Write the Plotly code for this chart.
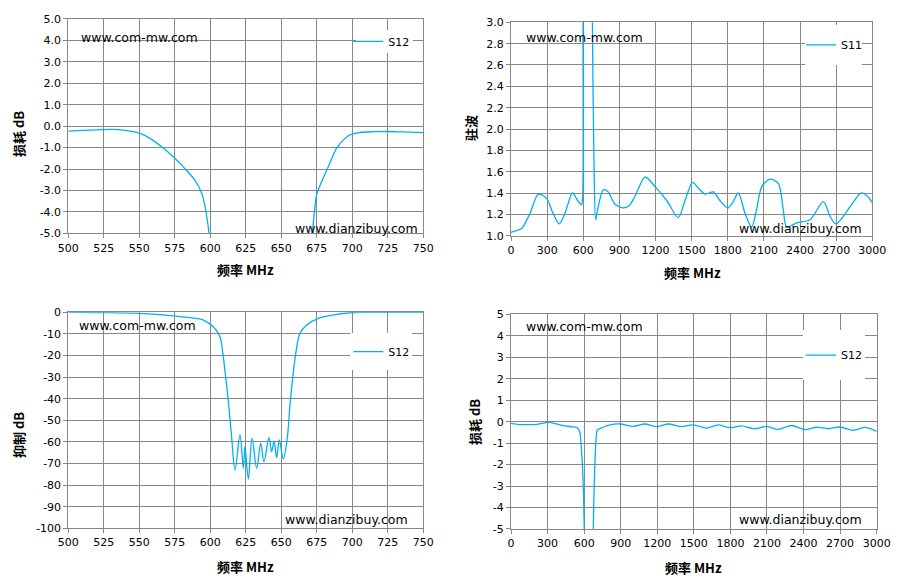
import plotly.graph_objects as go

# ---- data ----
# top left: pass band loss 500-750 MHz
f_il = [500, 510, 520, 530, 540, 550, 557.5, 567, 575, 582, 589, 594, 596.3, 597.9,
        599.1, 600.5, 605, 635, 665, 670, 671.8, 673, 674.9, 678.4, 683.1, 689,
        694.9, 698.4, 705, 715, 725, 735, 750]
s12_il = [-0.23, -0.2, -0.17, -0.15, -0.2, -0.33, -0.57, -1.03, -1.5, -1.97, -2.51, -3.13, -3.76, -4.38,
          -5.0, -6.0, -15, -60, -15, -6.2, -5.0, -4.22, -3.21, -2.59, -1.89, -1.03,
          -0.57, -0.41, -0.3, -0.26, -0.25, -0.27, -0.3]

# top right: VSWR 0-3000 MHz
f_vswr = [0, 50, 90, 158, 227, 296, 345, 400, 448, 510, 559, 585, 594, 598, 605, 640, 670,
          676, 690, 703, 720, 767, 808, 860, 930, 980, 1030, 1113, 1196, 1293, 1389, 1445,
          1508, 1560, 1611, 1680, 1735, 1799, 1840, 1888, 1943, 1998, 2040, 2082, 2151, 2220,
          2260, 2289, 2372, 2483, 2594, 2650, 2699, 2815, 2906, 2960, 3000]
s11_vswr = [1.03, 1.05, 1.07, 1.21, 1.39, 1.35, 1.22, 1.11, 1.21, 1.40, 1.32, 1.29, 1.35, 3.0, 4.5, 5.0, 4.5,
            3.0, 1.6, 1.15, 1.25, 1.43, 1.41, 1.30, 1.26, 1.28, 1.37, 1.55, 1.46, 1.33, 1.17, 1.33,
            1.50, 1.44, 1.39, 1.41, 1.33, 1.26, 1.31, 1.40, 1.21, 1.08, 1.25, 1.46, 1.53, 1.49,
            1.25, 1.08, 1.12, 1.15, 1.32, 1.18, 1.11, 1.27, 1.40, 1.37, 1.31]

# bottom left: rejection 500-750 MHz
f_rej = [500, 525, 550, 574, 585.7, 595.1, 602.1, 606.8, 608.7, 610.4, 612, 613.4, 615.1,
         617.4, 620.9, 623.3, 624.4, 626.8, 629.4, 632.7, 635.5, 637.8, 641.3, 643.2, 644.9,
         646.7, 648.6, 651.4, 654.2, 656.1, 658, 660.4, 663.2, 667.9, 676.1, 687, 698.6,
         710, 725, 750]
s12_rej = [0, -0.1, -0.5, -1.6, -2.5, -3.6, -6.7, -11.3, -18.2, -27.5, -36.7, -46, -58.3,
           -73, -56.8, -72.2, -62.2, -77.2, -58.3, -72.2, -60.6, -69.2, -58, -64.5, -59.6,
           -67.3, -59.1, -67.9, -58.3, -42.9, -30.6, -18.2, -9.7, -5.9, -2.8, -1.2, -0.2,
           0, 0, 0]

# bottom right: wide band loss 0-3000 MHz
f_wide = [0, 74, 150, 211, 306, 370, 429, 500, 539, 561, 580, 593, 601, 605, 640, 672, 675,
          683, 697, 708, 744, 812, 894, 1003, 1099, 1195, 1290, 1400, 1495, 1605, 1700, 1796,
          1892, 2001, 2097, 2193, 2302, 2412, 2508, 2603, 2699, 2808, 2904, 3000]
s12_wide = [-0.08, -0.14, -0.14, -0.13, -0.03, -0.1, -0.19, -0.24, -0.27, -0.42, -1.5, -3.07, -5.0, -6, -30, -6, -5.0,
            -2.9, -0.89, -0.39, -0.29, -0.15, -0.11, -0.22, -0.11, -0.23, -0.11, -0.23, -0.15, -0.3, -0.15, -0.28,
            -0.2, -0.33, -0.22, -0.36, -0.18, -0.37, -0.26, -0.33, -0.25, -0.4, -0.27, -0.45]

# tick values / labels
xt_narrow = list(range(500, 751, 25))
xt_wide = list(range(0, 3001, 300))
yt_il = list(range(-5, 6))
yt_vswr = [1.0 + 0.2 * i for i in range(11)]
yt_rej = list(range(-100, 1, 10))
yt_wide = list(range(-5, 6))

LINE = '#00B0F0'
GRID = '#878787'
FONT = 'DejaVu Sans'
CJK = 'Noto Sans CJK SC'

fig = go.Figure()

fig.add_trace(go.Scatter(x=f_il, y=s12_il, name='S12', mode='lines',
                         line=dict(color=LINE, width=1.3, shape='spline', smoothing=0.8),
                         xaxis='x', yaxis='y', legend='legend'))
fig.add_trace(go.Scatter(x=f_vswr, y=s11_vswr, name='S11', mode='lines',
                         line=dict(color=LINE, width=1.3, shape='spline', smoothing=0.8),
                         xaxis='x2', yaxis='y2', legend='legend2'))
fig.add_trace(go.Scatter(x=f_rej, y=s12_rej, name='S12', mode='lines',
                         line=dict(color=LINE, width=1.3, shape='spline', smoothing=1.0),
                         xaxis='x3', yaxis='y3', legend='legend3'))
fig.add_trace(go.Scatter(x=f_wide, y=s12_wide, name='S12', mode='lines',
                         line=dict(color=LINE, width=1.3, shape='spline', smoothing=0.8),
                         xaxis='x4', yaxis='y4', legend='legend4'))


def ax(domain, rng, vals, texts, anchor):
    return dict(domain=domain, range=rng, anchor=anchor, tickvals=vals, ticktext=texts,
                showline=True, linecolor=GRID, linewidth=1, mirror=True,
                showgrid=True, gridcolor=GRID, gridwidth=1, zeroline=False,
                ticks='outside', ticklen=4, tickcolor=GRID, automargin=False,
                tickfont=dict(family=FONT, size=11, color='black'))


fig.update_layout(
    width=900, height=584,
    margin=dict(l=0, r=0, t=0, b=0),
    paper_bgcolor='white', plot_bgcolor='white',
    font=dict(family=FONT, size=11, color='black'),
    showlegend=True,
    xaxis=ax([0.0759, 0.4703], [500, 750], xt_narrow, [str(v) for v in xt_narrow], 'y'),
    yaxis=ax([0.6005, 0.9675], [-5, 5], yt_il, [f'{v:.1f}' for v in yt_il], 'x'),
    xaxis2=ax([0.5678, 0.9692], [0, 3000], xt_wide, [str(v) for v in xt_wide], 'y2'),
    yaxis2=ax([0.5964, 0.9618], [1, 3], yt_vswr, [f'{v:.1f}' for v in yt_vswr], 'x2'),
    xaxis3=ax([0.0759, 0.4703], [500, 750], xt_narrow, [str(v) for v in xt_narrow], 'y3'),
    yaxis3=ax([0.0954, 0.4652], [-100, 0], yt_rej, [str(v) for v in yt_rej], 'x3'),
    xaxis4=ax([0.5678, 0.9741], [0, 3000], xt_wide, [str(v) for v in xt_wide], 'y4'),
    yaxis4=ax([0.0942, 0.4618], [-5, 5], yt_wide, [str(v) for v in yt_wide], 'x4'),
)

# legends (one per panel), on white boxes that hide the grid
leg = dict(bgcolor='rgba(0,0,0,0)', borderwidth=0, xanchor='left', yanchor='middle',
           font=dict(family=FONT, size=11, color='black'), itemwidth=30)
fig.update_layout(
    legend=dict(leg, x=0.387, y=0.929),
    legend2=dict(leg, x=0.890, y=0.923),
    legend3=dict(leg, x=0.387, y=0.398),
    legend4=dict(leg, x=0.890, y=0.392),
)
boxes = [('x', 'y', 0.810, 0.971, 0.841, 0.949),
         ('x2', 'y2', 0.814, 0.971, 0.800, 0.987),
         ('x3', 'y3', 0.794, 0.968, 0.733, 0.904),
         ('x4', 'y4', 0.798, 0.968, 0.694, 0.927)]
for xr, yr, x0, x1, y0, y1 in boxes:
    fig.add_shape(type='rect', xref=f'{xr} domain', yref=f'{yr} domain',
                  x0=x0, x1=x1, y0=y0, y1=y1, fillcolor='white',
                  line=dict(width=0), layer='above')

# watermarks
wm = dict(xref='paper', yref='paper', showarrow=False, yanchor='middle',
          font=dict(family=FONT, size=12.5, color='black'))
for x, y in [(0.0878, 0.9366), (0.5822, 0.9366), (0.0856, 0.4423), (0.5822, 0.4406)]:
    fig.add_annotation(wm, x=x, y=y, xanchor='left', text='www.com-mw.com')
for x, y in [(0.4667, 0.6079), (0.96, 0.6079), (0.4556, 0.1113), (0.96, 0.1113)]:
    fig.add_annotation(wm, x=x, y=y, xanchor='right', text='www.dianzibuy.com')

# axis titles
tt = dict(xref='paper', yref='paper', showarrow=False, xanchor='center', yanchor='middle',
          font=dict(family=CJK, size=13, color='black'))
for x, y, txt in [(0.2733, 0.5377, '频率 MHz'), (0.7689, 0.5342, '频率 MHz'),
                  (0.2733, 0.0308, '频率 MHz'), (0.7711, 0.0291, '频率 MHz')]:
    fig.add_annotation(tt, x=x, y=y, text=f'<b>{txt}</b>')
for x, y, txt in [(0.02, 0.7705, '损耗 dB'), (0.5222, 0.7808, '驻波'),
                  (0.02, 0.2551, '抑制 dB'), (0.5278, 0.2774, '损耗 dB')]:
    fig.add_annotation(tt, x=x, y=y, text=f'<b>{txt}</b>', textangle=-90)

# page has a default 8px body margin: drop it so the figure sits at 0,0
fig.write_html("out.html", config={'displayModeBar': False},
               post_script="document.body.style.margin='0';")
